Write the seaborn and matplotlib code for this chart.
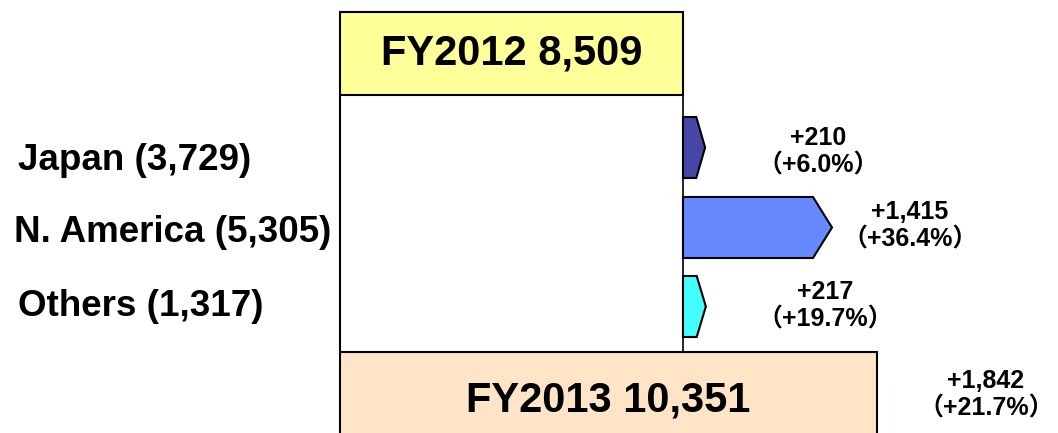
"""FY2012 -> FY2013 bridge chart by region."""

import matplotlib

matplotlib.use("Agg")
import matplotlib.pyplot as plt
from matplotlib.patches import Polygon
from matplotlib.transforms import blended_transform_factory
import seaborn as sns


# data
TOTAL_LABELS = ["FY2012", "FY2013"]
TOTAL_VALUES = [8509, 10351]
TOTAL_CHANGE = 1842
TOTAL_CHANGE_PCT = 21.7

REGIONS = ["Japan", "N. America", "Others"]
REGION_FY2013 = [3729, 5305, 1317]
REGION_CHANGE = [210, 1415, 217]
REGION_CHANGE_PCT = [6.0, 36.4, 19.7]

# layout (pixels from top of a 1058x433 canvas)
W, H = 1058, 433
AX_LEFT_PX = 340
X_START, X_END = 5252, 12070
UNITS_PER_PX = (X_END - X_START) / (W - AX_LEFT_PX)
TOTAL_ROW_Y = [53.5, 393.5]
TOTAL_TEXT_Y = [53.5, 400]
TOTAL_ROW_H = 83
REGION_ROW_Y = [147.5, 227.5, 306.5]
REGION_ROW_H = 61
NAME_Y = [160, 232, 307]
NAME_X_PX = [18, 14, 18]
MIDDLE_TOP, MIDDLE_BOTTOM = 95, 352
LABEL_PAD_PX = [113, 78, 119, 109]
LABEL_Y = [152, 226, 305.5, 395]

TOTAL_COLORS = ["#FFFF99", "#FFE4C8"]
REGION_COLORS = ["#4646A6", "#6689FF", "#44FFFF"]


def setup_style() -> None:
    sns.set_theme(style="white")
    plt.rcParams["font.family"] = ["Liberation Sans", "Noto Sans CJK JP", "DejaVu Sans"]
    plt.rcParams["font.weight"] = "bold"
    plt.rcParams["text.color"] = "black"


def main() -> None:
    setup_style()
    fig = plt.figure(figsize=(W / 100, H / 100), dpi=100)
    ax = fig.add_axes([AX_LEFT_PX / W, 0, 1 - AX_LEFT_PX / W, 1])

    # white block behind the regional arrows
    ax.barh(
        (MIDDLE_TOP + MIDDLE_BOTTOM) / 2,
        TOTAL_VALUES[0],
        height=MIDDLE_BOTTOM - MIDDLE_TOP,
        color="white",
        edgecolor="black",
        linewidth=1.2,
        zorder=1,
    )

    sns.barplot(
        x=TOTAL_VALUES,
        y=TOTAL_ROW_Y,
        hue=TOTAL_LABELS,
        palette=TOTAL_COLORS,
        saturation=1,
        orient="y",
        native_scale=True,
        width=TOTAL_ROW_H / (TOTAL_ROW_Y[1] - TOTAL_ROW_Y[0]),
        edgecolor="black",
        linewidth=1.5,
        legend=False,
        ax=ax,
        zorder=2,
    )

    base = TOTAL_VALUES[0]
    for y, change, color in zip(REGION_ROW_Y, REGION_CHANGE, REGION_COLORS):
        end = base + change
        tip = min(0.4 * change, 19 * UNITS_PER_PX)
        h = REGION_ROW_H / 2
        pts = [(base, y - h), (end - tip, y - h), (end, y), (end - tip, y + h), (base, y + h)]
        ax.add_patch(Polygon(pts, closed=True, facecolor=color, edgecolor="black", linewidth=1.5, zorder=3))

    ax.set_xlim(X_START, X_END)
    ax.set_ylim(H, 0)
    ax.set_xticks([])
    ax.set_yticks([])
    for side in ["top", "right", "bottom"]:
        ax.spines[side].set_visible(False)
    ax.spines["left"].set_visible(True)
    ax.spines["left"].set_color("black")
    ax.spines["left"].set_linewidth(1.5)
    ax.spines["left"].set_bounds(H, 12)

    # box captions
    for label, value, y in zip(TOTAL_LABELS, TOTAL_VALUES, TOTAL_TEXT_Y):
        ax.text(
            (X_START + value) / 2,
            y,
            f"{label} {value:,}",
            ha="center",
            va="center",
            fontsize=30,
            fontweight="bold",
            zorder=4,
        )

    # region names on the left
    trans = blended_transform_factory(fig.transFigure, ax.transData)
    for name, value, x_px, y in zip(REGIONS, REGION_FY2013, NAME_X_PX, NAME_Y):
        ax.text(
            x_px / W,
            y,
            f"{name} ({value:,})",
            transform=trans,
            ha="left",
            va="center",
            fontsize=26.5,
            fontweight="bold",
            clip_on=False,
        )

    # change labels
    ends = [base + c for c in REGION_CHANGE] + [TOTAL_VALUES[1]]
    changes = REGION_CHANGE + [TOTAL_CHANGE]
    pcts = REGION_CHANGE_PCT + [TOTAL_CHANGE_PCT]
    for i, (end, change, pct) in enumerate(zip(ends, changes, pcts)):
        ax.text(
            end + LABEL_PAD_PX[i] * UNITS_PER_PX,
            LABEL_Y[i],
            f"+{change:,}\n（+{pct:.1f}%）",
            ha="center",
            va="center",
            fontsize=18,
            fontweight="bold",
            linespacing=1.2,
            zorder=4,
        )

    fig.savefig("out.png", dpi=100)
    plt.close(fig)


if __name__ == "__main__":
    main()
